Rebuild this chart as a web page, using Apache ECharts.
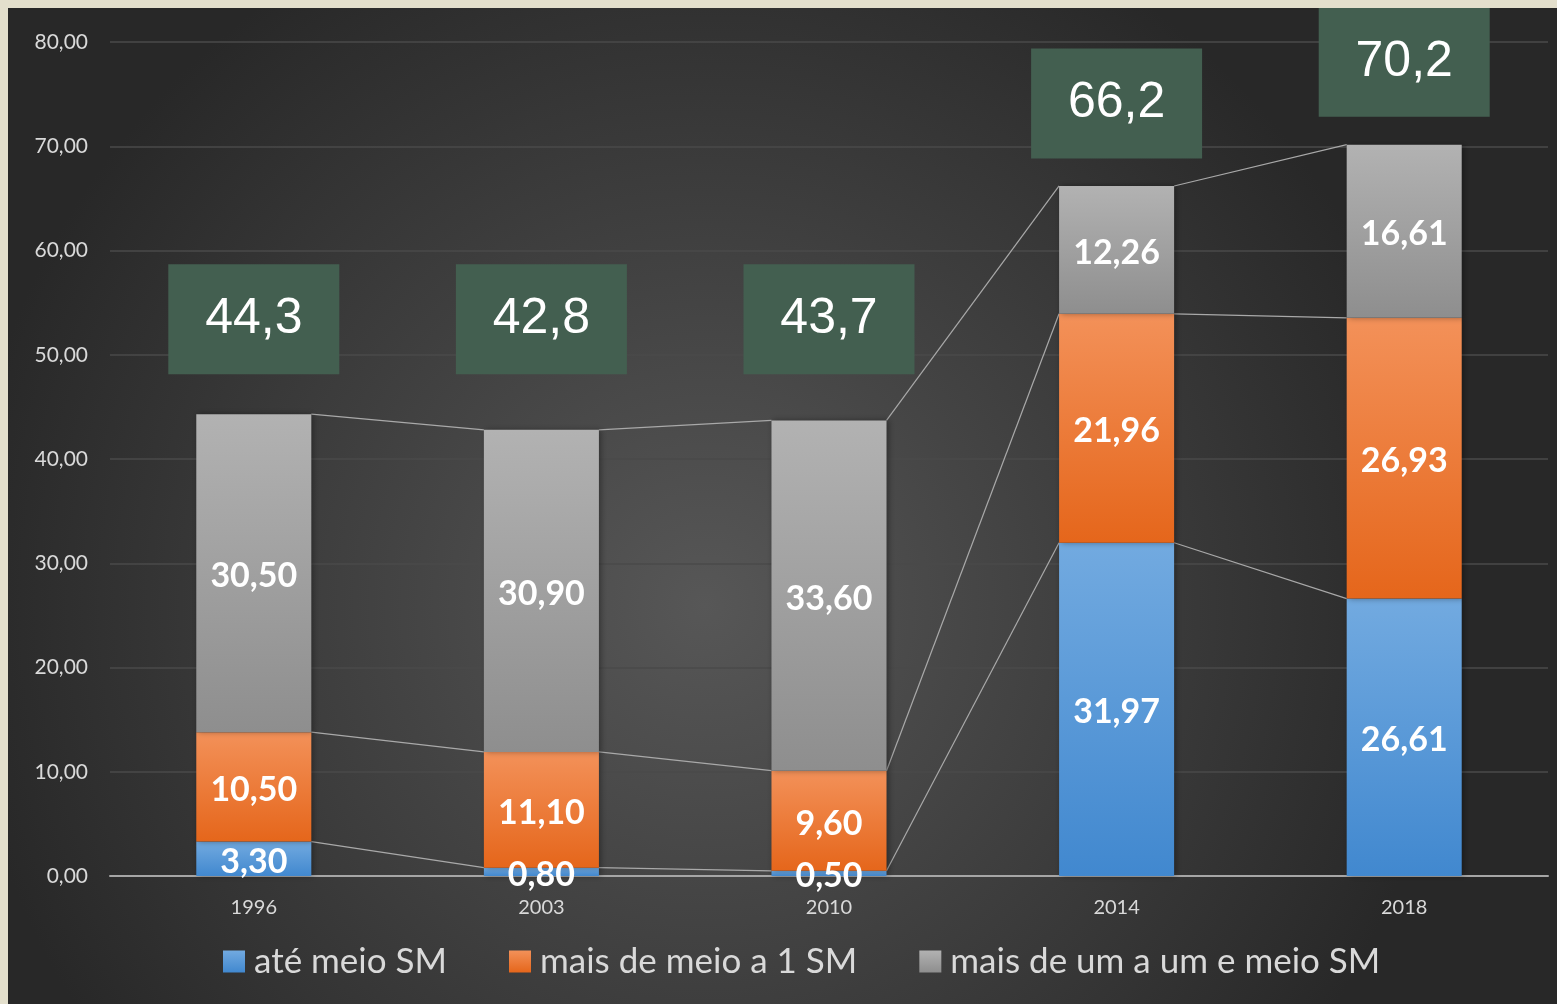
<!DOCTYPE html>
<html>
<head>
<meta charset="utf-8">
<script src="https://cdn.jsdelivr.net/npm/echarts@6/dist/echarts.min.js"></script>
<style>
  html, body { margin: 0; padding: 0; background: #e3dfcc; }
  #chart { position: absolute; left: 8px; top: 8px; width: 1549px; height: 996px; }
</style>
</head>
<body>
<div id="chart"></div>
<script>
var anos = ['1996', '2003', '2010', '2014', '2018'];
var ateMeio = [3.30, 0.80, 0.50, 31.97, 26.61];
var meioAUm = [10.50, 11.10, 9.60, 21.96, 26.93];
var umAUmEMeio = [30.50, 30.90, 33.60, 12.26, 16.61];
var totais = [44.3, 42.8, 43.7, 66.2, 70.2];
var nomes = ['até meio SM', 'mais de meio a 1 SM', 'mais de um a um e meio SM'];

function virgula(v, d) {
    return v.toFixed(d).replace('.', ',');
}

// topos acumulados de cada camada, para as linhas entre as barras
var camadas = [ateMeio, meioAUm, umAUmEMeio];
var linhas = [];
var acum = [0, 0, 0, 0, 0];
camadas.forEach(function (serie) {
    acum = acum.map(function (a, i) { return a + serie[i]; });
    for (var i = 0; i < anos.length - 1; i++) {
        linhas.push([i, acum[i], acum[i + 1]]);
    }
});

// caixas verdes dos totais: acima da barra, mas nunca abaixo de 53,4
var caixas = totais.map(function (t, i) {
    return [i, Math.max(t + 7.9, 53.4), t];
});

function grad(c1, c2) {
    return new echarts.graphic.LinearGradient(0, 0, 0, 1, [
        { offset: 0, color: c1 },
        { offset: 1, color: c2 }
    ]);
}

var rotulo = {
    show: true,
    position: 'inside',
    color: '#fff',
    fontFamily: 'Lato',
    fontWeight: 'bold',
    fontSize: 34,
    offset: [0, 3],
    formatter: function (p) { return virgula(p.value, 2); }
};

function barra(nome, dados, c1, c2) {
    return {
        name: nome,
        type: 'bar',
        stack: 'total',
        barWidth: '40%',
        data: dados,
        itemStyle: {
            color: grad(c1, c2),
            shadowColor: 'rgba(0,0,0,0.35)',
            shadowBlur: 6,
            shadowOffsetX: 2
        },
        label: rotulo,
        z: 3
    };
}

var option = {
    backgroundColor: new echarts.graphic.RadialGradient(0.45, 0.6, 0.75, [
        { offset: 0, color: '#575757' },
        { offset: 1, color: '#282828' }
    ]),
    animation: false,
    grid: { left: 102, right: 9, top: 34, bottom: 128 },
    legend: {
        data: nomes,
        bottom: 20,
        left: 210,
        itemWidth: 22,
        itemHeight: 22,
        itemGap: 62,
        icon: 'rect',
        textStyle: { color: '#d9d9d9', fontSize: 35, fontFamily: 'Lato', padding: [0, 0, 0, 4] }
    },
    xAxis: {
        type: 'category',
        data: anos,
        axisTick: { show: false },
        axisLine: { lineStyle: { color: '#a6a6a6', width: 2 } },
        axisLabel: { color: '#d9d9d9', fontSize: 20, fontFamily: 'Lato', margin: 22 }
    },
    yAxis: {
        type: 'value',
        min: 0,
        max: 80,
        interval: 10,
        axisLine: { show: false },
        axisTick: { show: false },
        splitLine: { lineStyle: { color: '#4a4a4a', width: 1.5 } },
        axisLabel: {
            color: '#d9d9d9', fontSize: 21, fontFamily: 'Lato', margin: 22,
            formatter: function (v) { return virgula(v, 2); }
        }
    },
    series: [
        barra(nomes[0], ateMeio, '#72aae0', '#4188cf'),
        barra(nomes[1], meioAUm, '#f39159', '#e5661b'),
        barra(nomes[2], umAUmEMeio, '#b2b2b2', '#8e8e8e'),
        {
            type: 'custom',
            data: linhas,
            z: 2,
            silent: true,
            renderItem: function (params, api) {
                var i = api.value(0);
                var p1 = api.coord([i, api.value(1)]);
                var p2 = api.coord([i + 1, api.value(2)]);
                var meia = api.size([1, 0])[0] * 0.4 / 2;
                return {
                    type: 'line',
                    shape: { x1: p1[0] + meia, y1: p1[1], x2: p2[0] - meia, y2: p2[1] },
                    style: { stroke: '#a9a9a9', lineWidth: 1.2 }
                };
            }
        },
        {
            type: 'scatter',
            data: caixas,
            symbol: 'rect',
            symbolSize: [171, 110],
            clip: false,
            z: 4,
            itemStyle: { color: '#435f50', opacity: 1 },
            label: {
                show: true,
                position: 'inside',
                color: '#ffffff',
                fontFamily: 'Liberation Sans',
                fontSize: 50,
                formatter: function (p) { return virgula(p.value[2], 1); }
            }
        }
    ]
};

var grafico = echarts.init(document.getElementById('chart'));
grafico.setOption(option);
</script>
</body>
</html>
